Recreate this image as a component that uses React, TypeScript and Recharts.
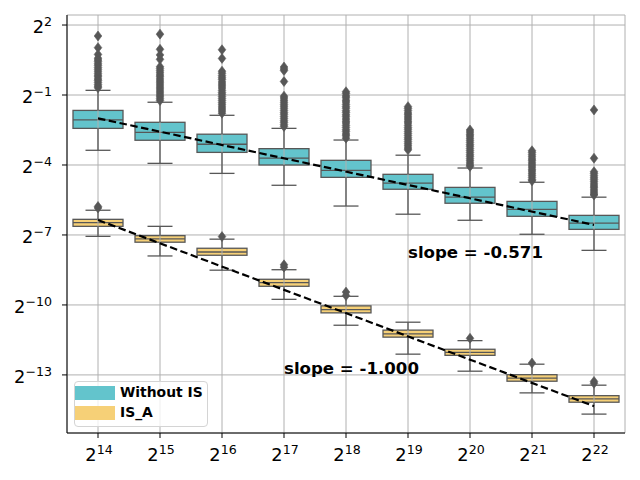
import React from 'react';
import { ComposedChart, Bar, Line, XAxis, YAxis, CartesianGrid, ReferenceArea, ReferenceDot } from 'recharts';

// x positions: 2^14 .. 2^22, y values are log2 of the measured quantity
const cats = ['14', '15', '16', '17', '18', '19', '20', '21', '22'];
const yTicks = [2, -1, -4, -7, -10, -13];

// Without IS: whisker low, q1, median, q3, whisker high
const noIsLo = [-3.37, -3.93, -4.36, -4.87, -5.76, -6.11, -6.37, -6.97, -7.66];
const noIsQ1 = [-2.43, -2.94, -3.46, -4.0, -4.53, -5.04, -5.64, -6.2, -6.76];
const noIsMed = [-2.07, -2.6, -3.11, -3.71, -4.23, -4.78, -5.38, -5.9, -6.49];
const noIsQ3 = [-1.66, -2.17, -2.68, -3.3, -3.8, -4.4, -4.96, -5.56, -6.16];
const noIsHi = [-0.8, -1.31, -1.87, -2.43, -2.93, -3.58, -4.13, -4.74, -5.38];
const noIsOut = [
  [1.53, 1.03, 0.74, 0.58, 0.5, 0.43, 0.34, 0.27, 0.18, 0.1, 0.02, -0.07, -0.15, -0.22, -0.31, -0.38, -0.46, -0.55, -0.62, -0.69],
  [1.61, 0.96, 0.72, 0.53, 0.21, 0.13, 0.04, -0.05, -0.14, -0.22, -0.31, -0.4, -0.48, -0.57, -0.66, -0.74, -0.83, -0.91, -1.0, -1.08, -1.16, -1.24],
  [0.94, 0.57, 0.02, -0.07, -0.17, -0.26, -0.34, -0.44, -0.53, -0.61, -0.7, -0.8, -0.89, -0.97, -1.06, -1.15, -1.24, -1.33, -1.42, -1.51, -1.6, -1.69, -1.78],
  [0.2, 0.12, 0.05, -0.42, -1.05, -1.13, -1.22, -1.31, -1.4, -1.48, -1.57, -1.66, -1.75, -1.83, -1.92, -2.01, -2.1, -2.18, -2.27, -2.35],
  [-0.86, -0.94, -1.04, -1.12, -1.22, -1.3, -1.4, -1.49, -1.57, -1.67, -1.75, -1.85, -1.93, -2.03, -2.12, -2.2, -2.3, -2.39, -2.49, -2.57, -2.67, -2.75, -2.85],
  [-1.5, -1.58, -1.67, -1.77, -1.85, -1.94, -2.03, -2.12, -2.2, -2.3, -2.39, -2.47, -2.56, -2.65, -2.74, -2.83, -2.91, -3.0, -3.09, -3.18, -3.27, -3.35],
  [-2.5, -2.59, -2.68, -2.76, -2.85, -2.94, -3.03, -3.12, -3.2, -3.29, -3.38, -3.47, -3.56, -3.64, -3.73, -3.82, -3.91, -4.0, -4.06],
  [-3.39, -3.47, -3.56, -3.65, -3.74, -3.82, -3.91, -4.0, -4.09, -4.18, -4.26, -4.35, -4.44, -4.53, -4.62, -4.68],
  [-1.64, -3.71, -4.29, -4.37, -4.46, -4.55, -4.63, -4.72, -4.81, -4.9, -4.98, -5.07, -5.16, -5.24, -5.29],
];

// IS_A
const isALo = [-7.06, -7.9, -8.51, -9.76, -10.87, -12.11, -12.84, -13.77, -14.68];
const isAQ1 = [-6.63, -7.31, -7.87, -9.2, -10.34, -11.38, -12.16, -13.27, -14.17];
const isAMed = [-6.47, -7.17, -7.73, -9.04, -10.2, -11.24, -12.03, -13.14, -14.03];
const isAQ3 = [-6.33, -7.03, -7.57, -8.9, -10.04, -11.08, -11.9, -12.99, -13.89];
const isAHi = [-5.94, -6.63, -7.18, -8.49, -9.63, -10.74, -11.53, -12.54, -13.44];
const isAOut = [[-5.78, -5.84], [], [-7.07], [-8.28, -8.38], [-9.45, -9.6], [], [-11.43], [-12.49], [-13.28, -13.36]];

// fitted lines, read at the two ends
const fitNoIs = [-2.0, null, null, null, null, null, null, null, -6.57];
const fitIsA = [-6.36, null, null, null, null, null, null, null, -14.34];

const TEAL = '#63c4cc';
const SAND = '#f6d077';
const EDGE = '#575757';
const FONT = 'DejaVu Sans';

const data = cats.map((n, i) => ({
  n,
  i,
  noIs: [noIsLo[i], noIsHi[i]],
  isA: [isALo[i], isAHi[i]],
  fitNoIs: fitNoIs[i],
  fitIsA: fitIsA[i],
}));

const boxShape = (lo: number[], q1: number[], med: number[], q3: number[], hi: number[], out: number[][], fill: string) =>
  (props: any) => {
    const { x, y, width, height, payload } = props;
    const i = payload.i;
    const top = Math.min(y, y + height);
    const bot = Math.max(y, y + height);
    const py = (v: number) => top + ((hi[i] - v) / (hi[i] - lo[i])) * (bot - top);
    const cx = x + width / 2;
    const cap = width / 4;
    return (
      <g>
        <line x1={cx} x2={cx} y1={py(hi[i])} y2={py(q3[i])} stroke={EDGE} strokeWidth={1.3} />
        <line x1={cx} x2={cx} y1={py(q1[i])} y2={py(lo[i])} stroke={EDGE} strokeWidth={1.3} />
        <line x1={cx - cap} x2={cx + cap} y1={py(hi[i])} y2={py(hi[i])} stroke={EDGE} strokeWidth={1.3} />
        <line x1={cx - cap} x2={cx + cap} y1={py(lo[i])} y2={py(lo[i])} stroke={EDGE} strokeWidth={1.3} />
        <rect x={x} y={py(q3[i])} width={width} height={py(q1[i]) - py(q3[i])} fill={fill} stroke={EDGE} strokeWidth={1.3} />
        <line x1={x} x2={x + width} y1={py(med[i])} y2={py(med[i])} stroke={EDGE} strokeWidth={1.3} />
        {/* grid line shows through the box in the original */}
        <line x1={cx} x2={cx} y1={py(q3[i])} y2={py(q1[i])} stroke="#b0b0b0" strokeWidth={1} />
        {out[i].map((v, k) => {
          const oy = py(v);
          return <path key={k} d={`M${cx},${oy - 5}L${cx + 3.8},${oy}L${cx},${oy + 5}L${cx - 3.8},${oy}Z`} fill={EDGE} stroke={EDGE} strokeWidth={0.6} />;
        })}
      </g>
    );
  };

const sup = (v: string | number) => String(v).replace('-', '\u2212');

const YTick = ({ x, y, payload }: any) => (
  <text x={x - 5} y={y + 8.3} textAnchor="end" fontFamily={FONT} fill="#000">
    <tspan fontSize={17.8}>2</tspan>
    <tspan fontSize={12.6} dy={-7.3}>{sup(payload.value)}</tspan>
  </text>
);

const XTick = ({ x, y, payload }: any) => (
  <text x={x + 1} y={y + 22} textAnchor="middle" fontFamily={FONT} fill="#000">
    <tspan fontSize={17.8}>2</tspan>
    <tspan fontSize={12.6} dy={-7.3}>{payload.value}</tspan>
  </text>
);

const slopeText = (label: string) => (p: any) => (
  <text x={p.cx} y={p.cy} dominantBaseline="central" fontFamily={FONT} fontWeight="bold" fontSize={16.6} fill="#000">
    {label}
  </text>
);

export default function App() {
  return (
    <div style={{ position: 'absolute', left: 0, top: 0, width: 640, height: 480, background: '#fff' }}>
      <ComposedChart width={640} height={480} data={data} margin={{ top: 15, right: 15, bottom: 7, left: 7 }} barSize={50} barGap={-50}>
        <CartesianGrid stroke="#b0b0b0" strokeWidth={1} />
        <XAxis dataKey="n" type="category" height={40} tick={<XTick />} tickSize={5} tickMargin={1}
          axisLine={{ stroke: '#000' }} tickLine={{ stroke: '#000' }} interval={0} />
        <YAxis type="number" domain={[-15.49, 2.43]} ticks={yTicks} width={60} tick={<YTick />} tickSize={5} tickMargin={5}
          axisLine={{ stroke: '#000' }} tickLine={{ stroke: '#000' }} allowDataOverflow interval={0} />
        <Bar dataKey="noIs" isAnimationActive={false} shape={boxShape(noIsLo, noIsQ1, noIsMed, noIsQ3, noIsHi, noIsOut, TEAL)} />
        <Bar dataKey="isA" isAnimationActive={false} shape={boxShape(isALo, isAQ1, isAMed, isAQ3, isAHi, isAOut, SAND)} />
        <Line dataKey="fitNoIs" connectNulls dot={false} stroke="#000" strokeWidth={2.2} strokeDasharray="7.5 3.5" isAnimationActive={false} />
        <Line dataKey="fitIsA" connectNulls dot={false} stroke="#000" strokeWidth={2.2} strokeDasharray="7.5 3.5" isAnimationActive={false} />
        <ReferenceDot x="19" y={-7.77} r={0} shape={slopeText('slope = -0.571')} />
        <ReferenceDot x="17" y={-12.74} r={0} shape={slopeText('slope = -1.000')} />
        <ReferenceArea fill="none" stroke="#000" strokeWidth={1} fillOpacity={0} />
      </ComposedChart>
      <div style={{ position: 'absolute', left: 74, top: 381, width: 132, height: 44, border: '1px solid #d4d4d4', borderRadius: 4, background: 'rgba(255,255,255,0.8)', fontFamily: FONT, fontWeight: 'bold', fontSize: 13.9 }}>
        <div style={{ position: 'absolute', left: 0, top: 4, width: 40, height: 14, background: TEAL }} />
        <div style={{ position: 'absolute', left: 45, top: 2, lineHeight: '17px' }}>Without IS</div>
        <div style={{ position: 'absolute', left: 0, top: 24, width: 40, height: 14, background: SAND }} />
        <div style={{ position: 'absolute', left: 45, top: 22, lineHeight: '17px' }}>IS_A</div>
      </div>
    </div>
  );
}
